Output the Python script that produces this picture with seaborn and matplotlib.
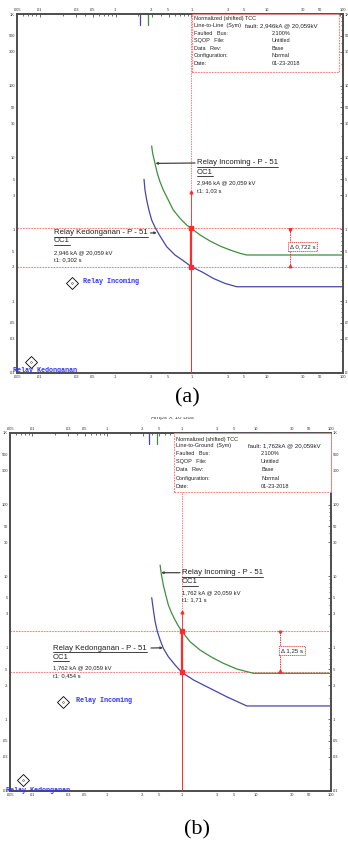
import pandas as pd
import seaborn as sns
import matplotlib.pyplot as plt
from matplotlib.patches import Rectangle
from matplotlib.lines import Line2D
from matplotlib.ticker import FixedLocator, FixedFormatter, LogLocator, NullFormatter

W, H = 348, 842

# ---- data (current in kA x 10, time in s) ----
x_ticks = [0.005, 0.01, 0.03, 0.05, 0.1, 0.3, 0.5, 1, 3, 5, 10, 30, 50, 100]
x_tick_labels = [".005", ".01", ".03", ".05", ".1", ".3", ".5", "1", "3", "5", "10", "30", "50", "100"]
y_ticks = [0.01, 0.03, 0.05, 0.1, 0.3, 0.5, 1, 3, 5, 10, 30, 50, 100, 300, 500, 1000]
y_tick_labels = [".01", ".03", ".05", ".1", ".3", ".5", "1", "3", "5", "10", "30", "50", "100", "300", "500", "1K"]

# (a) line-to-line fault
a_inc_amps = [0.299, 0.308, 0.331, 0.355, 0.385, 0.426, 0.495, 0.577, 0.706, 0.865, 1.0,
              1.30, 1.76, 2.38, 3.23, 4.37, 5.36, 100]
a_inc_secs = [14.5, 11.5, 8.3, 6.04, 4.61, 3.54, 2.57, 1.86, 1.43, 1.15, 1.03,
              0.836, 0.689, 0.587, 0.517, 0.465, 0.44, 0.44]
a_ked_amps = [0.237, 0.244, 0.257, 0.275, 0.299, 0.331, 0.378, 0.472, 0.607, 0.781, 1.0,
              1.36, 1.94, 2.77, 3.96, 100]
a_ked_secs = [4.99, 3.54, 2.57, 1.86, 1.35, 1.07, 0.836, 0.574, 0.44, 0.367, 0.302,
              0.258, 0.208, 0.177, 0.159, 0.159]
a_pickup = [0.21, 0.267]          # blue, green
a_t_inc, a_t_ked = 1.03, 0.302
a_arrow_top = 3.35
a_delta_x = 20
a_delta_text = "\u0394 0,722 s"
a_diamond_amps = [0.0266, 0.00766]
a_diamond_secs = [0.18, 0.0142]
a_fault = "fault: 2,946kA @ 20,059kV"
a_case = "Line-to-Line  (Sym)"
a_ka = "2,946 kA @ 20,059 kV"

# (b) line-to-ground fault
b_inc_amps = [0.513, 0.535, 0.567, 0.611, 0.662, 0.734, 0.815, 0.902, 1.0,
              1.29, 1.76, 2.53, 3.62, 5.46, 9.13, 100]
b_inc_secs = [14.3, 10.4, 7.5, 5.46, 3.96, 3.03, 2.44, 2.01, 1.71,
              1.22, 0.93, 0.736, 0.607, 0.506, 0.44, 0.44]
b_ked_amps = [0.396, 0.417, 0.44, 0.472, 0.513, 0.567, 0.662, 0.815, 1.0,
              1.44, 2.17, 4.01, 7.45, 100]
b_ked_secs = [5.01, 3.37, 2.32, 1.68, 1.29, 0.984, 0.75, 0.575, 0.454,
              0.355, 0.286, 0.207, 0.154, 0.154]
b_pickup = [0.365, 0.46]
b_t_inc, b_t_ked = 1.71, 0.454
b_arrow_top = 3.19
b_delta_x = 21
b_delta_text = "\u0394 1,25 s"
b_diamond_amps = [0.0259, 0.00754]
b_diamond_secs = [0.173, 0.01426]
b_fault = "fault: 1,762kA @ 20,059kV"
b_case = "Line-to-Ground  (Sym)"
b_ka = "1,762 kA @ 20,059 kV"

info_labels = ["Faulted   Bus:", "SQOP   File:", "Data   Rev:", "Configuration:", "Date:"]
info_values = ["2.100%", "Untitled", "Base", "Normal", "01-23-2018"]

GREEN = "#3f8f3f"
BLUE = "#4646a8"
RED = "#ff2a2a"
PINK = "#ff7a7a"


def fx(x):
    return x / W


def fy(y):
    return 1 - y / H


def setup_axes(fig, left, top, right, bottom):
    ax = fig.add_axes([fx(left), fy(bottom), (right - left) / W, (bottom - top) / H])
    ax.set_xscale("log")
    ax.set_yscale("log")
    ax.set_xlim(0.005, 100)
    ax.set_ylim(0.01, 1000)
    ax.xaxis.set_major_locator(FixedLocator(x_ticks))
    ax.xaxis.set_major_formatter(FixedFormatter(x_tick_labels))
    ax.yaxis.set_major_locator(FixedLocator(y_ticks))
    ax.yaxis.set_major_formatter(FixedFormatter(y_tick_labels))
    ax.xaxis.set_minor_locator(LogLocator(subs=range(2, 10), numticks=20))
    ax.yaxis.set_minor_locator(LogLocator(subs=range(2, 10), numticks=20))
    ax.xaxis.set_minor_formatter(NullFormatter())
    ax.yaxis.set_minor_formatter(NullFormatter())
    ax.tick_params(which="both", direction="in", top=True, right=True,
                   labeltop=True, labelright=True, labelsize=2.9,
                   labelcolor="#333333", color="#333333", width=0.5, pad=1.5)
    ax.tick_params(which="major", length=2.5)
    ax.tick_params(which="minor", length=1.5)
    for s in ax.spines.values():
        s.set_color("#4d4d4d")
        s.set_linewidth(1.4)
    return ax


def draw_curves(ax, inc_a, inc_s, ked_a, ked_s, pickup, t_inc, t_ked, arrow_top, delta_x,
                dia_a, dia_s):
    inc = pd.DataFrame({"amps": inc_a, "secs": inc_s})
    ked = pd.DataFrame({"amps": ked_a, "secs": ked_s})
    # reference lines at the operating times
    ax.axhline(t_inc, color=PINK, ls=(0, (1.5, 1)), lw=0.8, zorder=1)
    ax.axhline(t_ked, color=PINK, ls=(0, (1.5, 1)), lw=0.8, zorder=1)
    ax.axvline(1, color=PINK, ls=(0, (1.5, 1)), lw=0.7, zorder=1)
    sns.lineplot(data=ked, x="amps", y="secs", ax=ax, color=BLUE, lw=0.9,
                 sort=False, estimator=None, zorder=3)
    sns.lineplot(data=inc, x="amps", y="secs", ax=ax, color=GREEN, lw=0.9,
                 sort=False, estimator=None, zorder=3)
    # pickup marks at the top
    ax.plot([pickup[0], pickup[0]], [1000, 700], color=BLUE, lw=0.9)
    ax.plot([pickup[1], pickup[1]], [1000, 700], color=GREEN, lw=0.9)
    # fault current line
    ax.plot([1, 1], [0.01, t_ked], color=RED, lw=0.7, zorder=4)
    ax.plot([1, 1], [t_ked, t_inc], color=RED, lw=1.6, zorder=4)
    ax.plot([1, 1], [t_inc, arrow_top], color=RED, lw=0.6, zorder=4)
    ax.plot([1], [arrow_top], marker="^", ms=2, color=RED, zorder=5)
    ax.plot([1, 1], [t_ked, t_inc], ls="none", marker="s", ms=2.2, color=RED, zorder=5)
    # delta time
    ax.plot([delta_x, delta_x], [t_ked, t_inc], color=RED, ls=(0, (1.5, 1)), lw=0.7, zorder=4)
    ax.plot([delta_x, delta_x], [t_ked, t_inc], ls="none", marker="_", ms=3, mew=0.7,
            color=RED, zorder=5)
    ax.plot([delta_x], [t_ked * 1.04], marker="^", ms=1.8, color=RED, zorder=5)
    ax.plot([delta_x], [t_inc * 0.96], marker="v", ms=1.8, color=RED, zorder=5)
    # relay legend diamonds
    ax.plot(dia_a, dia_s, ls="none", marker="D", ms=6, mfc="white", mec="black",
            mew=0.6, zorder=5, clip_on=False)
    ax.plot(dia_a, dia_s, ls="none", marker="o", ms=1.2, mfc="white", mec="black",
            mew=0.3, zorder=6, clip_on=False)
    ax.set_xlabel("")
    ax.set_ylabel("")


def info_box(fig, box, col1, col_fault, col2, rows_y, case, fault):
    l, t, r, b = box
    fig.add_artist(Rectangle((fx(l), fy(b)), (r - l) / W, (b - t) / H, transform=fig.transFigure,
                             fill=True, fc="white", ec=PINK, ls=(0, (1.5, 1)), lw=0.8, zorder=4))
    kw = dict(family="Liberation Sans", va="center", ha="left", color="#222222", zorder=5)
    fig.text(fx(col1), fy(rows_y[0]), "Normalized (shifted) TCC", fontsize=4.0, **kw)
    fig.text(fx(col1), fy(rows_y[1]), case, fontsize=4.0, **kw)
    fig.text(fx(col_fault), fy(rows_y[1]), fault, fontsize=4.4, **kw)
    for lab, val, y in zip(info_labels, info_values, rows_y[2:]):
        fig.text(fx(col1), fy(y), lab, fontsize=4.0, **kw)
        fig.text(fx(col2), fy(y), val, fontsize=4.0, **kw)


underlined = []


def relay_label(fig, ax, x, ys, title, ka, t1, target, arrow_from, arrow_y):
    kw = dict(family="Liberation Sans", va="center", ha="left", color="#222222", zorder=6)
    underlined.append(fig.text(fx(x), fy(ys[0]), title, fontsize=5.6, **kw))
    underlined.append(fig.text(fx(x), fy(ys[1]), "OC1", fontsize=5.6, **kw))
    fig.text(fx(x), fy(ys[2]), ka, fontsize=4.2, **kw)
    fig.text(fx(x), fy(ys[3]), t1, fontsize=4.2, **kw)
    ax.annotate("", xy=target, xycoords="data",
                xytext=(fx(arrow_from), fy(arrow_y)), textcoords="figure fraction",
                arrowprops=dict(arrowstyle="-|>", color="#444444", lw=0.9,
                                mutation_scale=3, shrinkA=0, shrinkB=0))


def relay_tags(fig, tags):
    for x, y, name in tags:
        fig.text(fx(x), fy(y), name, fontsize=4.9, family="Liberation Mono",
                 weight="bold", color="#3333ff", va="center", ha="left", zorder=7)


sns.set_theme(style="white")
plt.rcParams["font.family"] = ["Liberation Sans", "DejaVu Sans"]

fig = plt.figure(figsize=(W / 100, H / 100), dpi=100)
fig.patch.set_facecolor("white")

# ---------------- panel (a) ----------------
ax_a = setup_axes(fig, 17, 14, 343, 373)
draw_curves(ax_a, a_inc_amps, a_inc_secs, a_ked_amps, a_ked_secs, a_pickup, a_t_inc,
            a_t_ked, a_arrow_top, a_delta_x, a_diamond_amps, a_diamond_secs)
info_box(fig, (192, 14, 339, 72), 193.5, 245, 272,
         [18.3, 26, 33.3, 40.7, 48.3, 55.7, 63.3], a_case, a_fault)
relay_label(fig, ax_a, 197, [163, 172.3, 182.3, 190.7], "Relay Incoming - P - 51", a_ka,
            "t1: 1,03 s", (0.335, 8.3), 195, 163)
relay_label(fig, ax_a, 54, [233, 241, 252.7, 260], "Relay Kedonganan - P - 51", a_ka,
            "t1: 0,302 s", (0.35, 0.9), 150.5, 233)
fig.text(fx(290), fy(246.5), a_delta_text, fontsize=4.4, va="center", ha="left", zorder=7,
         bbox=dict(boxstyle="square,pad=0.25", fc="white", ec=RED, ls=(0, (1.5, 1)), lw=0.6))
relay_tags(fig, [(83, 281.5, "Relay Incoming"), (13, 371, "Relay Kedonganan")])
fig.text(fx(187.5), fy(398), "(a)", fontsize=16, family="Liberation Serif",
         ha="center", va="center", color="black")

# partly hidden axis caption above panel (b)
cap = fig.text(fx(172), fy(417), "Amps X 10 Bus", fontsize=4.5, ha="center", va="center",
               color="#444444")
cap.set_clip_path(Rectangle((0, fy(421)), 1, 4 / H, transform=fig.transFigure))

# ---------------- panel (b) ----------------
ax_b = setup_axes(fig, 10, 433, 331, 791)
draw_curves(ax_b, b_inc_amps, b_inc_secs, b_ked_amps, b_ked_secs, b_pickup, b_t_inc,
            b_t_ked, b_arrow_top, b_delta_x, b_diamond_amps, b_diamond_secs)
info_box(fig, (174, 433, 330.7, 491.7), 175.5, 248, 261,
         [439.3, 446, 453.3, 461, 469.3, 478.3, 486], b_case, b_fault)
relay_label(fig, ax_b, 182, [572.7, 581.7, 592.3, 600], "Relay Incoming - P - 51", b_ka,
            "t1: 1,71 s", (0.53, 11.2), 180, 572.7)
relay_label(fig, ax_b, 53, [648, 657.3, 667.3, 675.7], "Relay Kedonganan - P - 51", b_ka,
            "t1: 0,454 s", (0.56, 1.0), 151, 648)
fig.text(fx(281), fy(650.5), b_delta_text, fontsize=4.4, va="center", ha="left", zorder=7,
         bbox=dict(boxstyle="square,pad=0.25", fc="white", ec=RED, ls=(0, (1.5, 1)), lw=0.6))
relay_tags(fig, [(75.7, 700, "Relay Incoming"), (6, 790, "Relay Kedonganan")])
fig.text(fx(196.5), fy(830), "(b)", fontsize=16, family="Liberation Serif",
         ha="center", va="center", color="black")

# underline the relay titles
fig.canvas.draw()
renderer = fig.canvas.get_renderer()
for txt in underlined:
    bb = txt.get_window_extent(renderer)
    fig.add_artist(Line2D([bb.x0 / W, bb.x1 / W], [(bb.y0 - 0.3) / H, (bb.y0 - 0.3) / H],
                          transform=fig.transFigure, color="#222222", lw=0.6, zorder=6))

fig.savefig("out.png", dpi=100)
